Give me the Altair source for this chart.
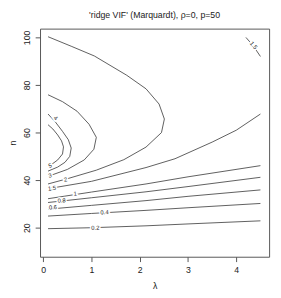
import altair as alt
import pandas as pd

# contour levels and their traced lines (lambda, n)
c02_lam = [0.1, 1.0, 2.13, 3.0, 4.5]
c02_n = [19.6, 20.0, 20.8, 21.6, 22.9]
c04_lam = [0.1, 1.0, 2.13, 3.0, 4.5]
c04_n = [24.9, 26.0, 27.3, 28.4, 30.2]
c06_lam = [0.1, 1.0, 2.13, 3.0, 4.5]
c06_n = [27.8, 29.4, 31.4, 33.2, 35.9]
c08_lam = [0.1, 1.0, 2.13, 3.0, 4.5]
c08_n = [30.6, 32.6, 35.1, 37.3, 41.2]
c1_lam = [0.1, 1.0, 2.13, 3.0, 4.5]
c1_n = [32.2, 35.0, 38.4, 41.4, 46.1]
c15_lam = [0.1, 1.0, 2.13, 2.73, 3.5, 4.0, 4.5]
c15_n = [36.4, 39.5, 45.3, 49.0, 56.0, 61.0, 67.8]
c15b_lam = [4.2, 4.35, 4.5]
c15b_n = [100.0, 96.5, 92.0]
c2_lam = [0.1, 0.58, 1.06, 1.73, 2.13, 2.4, 2.51, 2.45, 2.13, 1.67, 1.1, 0.5, 0.1]
c2_n = [100.3, 96.3, 92.2, 84.1, 78.4, 72.0, 65.7, 60.0, 53.9, 48.6, 44.2, 40.6, 38.4]
c3_lam = [0.1, 0.4, 0.7, 0.95, 1.1, 1.05, 0.85, 0.5, 0.1]
c3_n = [75.9, 73.0, 69.0, 63.5, 58.0, 53.0, 48.5, 44.5, 41.6]
c4_lam = [0.1, 0.25, 0.4, 0.52, 0.58, 0.55, 0.45, 0.3, 0.1]
c4_n = [67.8, 64.5, 60.5, 57.0, 53.5, 50.0, 47.5, 45.5, 43.8]
c5_lam = [0.1, 0.2, 0.3, 0.38, 0.42, 0.4, 0.3, 0.2, 0.1]
c5_n = [63.3, 61.5, 59.0, 56.5, 54.0, 51.0, 48.5, 47.0, 46.1]

# contour labels
lab_text = ["0.2", "0.4", "0.6", "0.8", "1", "1.5", "2", "3", "4", "5", "1.5"]
lab_lam = [1.08, 1.27, 0.2, 0.38, 0.66, 0.18, 0.46, 0.14, 0.26, 0.14, 4.36]
lab_n = [20.0, 26.5, 28.6, 31.4, 34.3, 36.6, 40.3, 42.0, 66.1, 46.1, 96.7]
lab_angle = [359, 357, 357, 356, 355, 353, 350, 345, 40, 340, 50]

x_ticks = [0, 1, 2, 3, 4]
y_ticks = [20, 40, 60, 80, 100]

series = [
    ("0.2", c02_lam, c02_n), ("0.4", c04_lam, c04_n), ("0.6", c06_lam, c06_n),
    ("0.8", c08_lam, c08_n), ("1", c1_lam, c1_n), ("1.5a", c15_lam, c15_n),
    ("1.5b", c15b_lam, c15b_n), ("2", c2_lam, c2_n), ("3", c3_lam, c3_n),
    ("4", c4_lam, c4_n), ("5", c5_lam, c5_n),
]
rows = []
for name, lam, nn in series:
    for i, (a, b) in enumerate(zip(lam, nn)):
        rows.append({"level": name, "i": i, "lam": a, "n": b})
lines_df = pd.DataFrame(rows)
labels_df = pd.DataFrame({"t": lab_text, "lam": lab_lam, "n": lab_n, "ang": lab_angle})

xs = alt.Scale(domain=[-0.066, 4.68], nice=False, zero=False)
ys = alt.Scale(domain=[7.8, 103.7], nice=False, zero=False)
xenc = alt.X("lam:Q", scale=xs, title="λ", axis=alt.Axis(values=x_ticks, format="d"))
yenc = alt.Y("n:Q", scale=ys, title="n", axis=alt.Axis(values=y_ticks, format="d", labelAngle=270))

lines = alt.Chart(lines_df).mark_line(color="#333333", strokeWidth=0.8).encode(
    x=xenc, y=yenc, detail="level:N", order="i:Q"
)
halo = alt.Chart(labels_df).mark_text(
    font="Liberation Sans", fontSize=6, stroke="white", strokeWidth=3, color="white"
).encode(x="lam:Q", y="n:Q", text="t:N", angle=alt.Angle("ang:Q", scale=None))
labels = alt.Chart(labels_df).mark_text(
    font="Liberation Sans", fontSize=6, color="#222222"
).encode(x="lam:Q", y="n:Q", text="t:N", angle=alt.Angle("ang:Q", scale=None))

chart = alt.layer(lines, halo, labels).properties(
    width=236, height=235,
    title=alt.TitleParams("'ridge VIF' (Marquardt), ρ=0, p=50", anchor="middle",
                          font="Liberation Sans", fontSize=9, fontWeight="normal",
                          color="#222222", offset=9),
    autosize=alt.AutoSizeParams(type="none"),
    padding={"left": 33, "top": 17, "right": 4, "bottom": 30},
).configure_view(stroke="#555555", strokeWidth=1).configure_axis(
    grid=False, domain=False, tickColor="#555555", tickSize=5,
    labelFont="Liberation Sans", labelFontSize=9, labelColor="#222222", labelPadding=4,
    titleFont="Liberation Sans", titleFontSize=9, titleFontWeight="normal", titleColor="#222222",
).configure_axisX(titlePadding=8).configure_axisY(titlePadding=5)

chart.save("out.html", embed_options={"renderer": "svg", "actions": False})
